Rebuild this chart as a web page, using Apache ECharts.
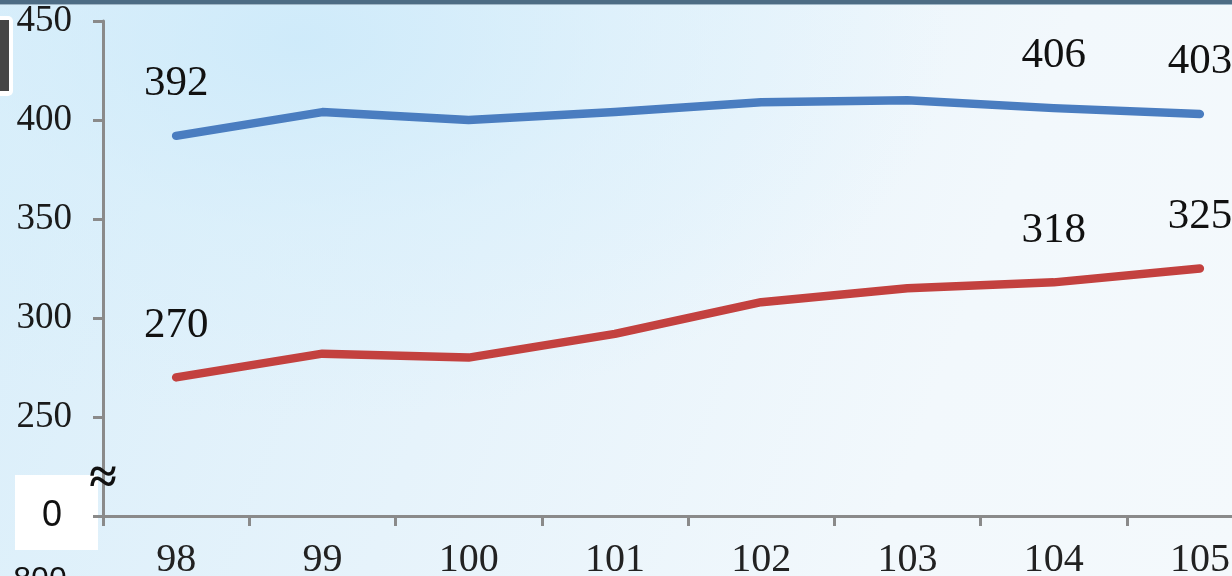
<!DOCTYPE html>
<html>
<head>
<meta charset="utf-8">
<script src="https://cdn.jsdelivr.net/npm/echarts@6/dist/echarts.min.js"></script>
<style>
html,body{margin:0;padding:0;width:1232px;height:576px;overflow:hidden;}
body{background:
  radial-gradient(ellipse 650px 380px at 300px 40px, rgba(205,234,250,0.9) 0%, rgba(214,238,251,0.5) 50%, rgba(236,246,252,0) 100%),
  linear-gradient(110deg, #d9eefa 0%, #e6f3fb 40%, #f2f8fc 75%, #f4f9fc 100%);}
#chart{width:1232px;height:576px;}
</style>
</head>
<body>
<div id="chart"></div>
<script>
const categories = ['98','99','100','101','102','103','104','105'];
const seriesA = [392, 404, 400, 404, 409, 410, 406, 403];
const seriesB = [270, 282, 280, 292, 308, 315, 318, 325];
const labelIndices = [0, 6, 7];
const yTicks = [200, 250, 300, 350, 400, 450];
const yTickLabels = ['0', '250', '300', '350', '400', '450'];

const chart = echarts.init(document.getElementById('chart'), null, {renderer: 'canvas'});

function buildData(arr) {
  return arr.map((v, i) => ({
    value: v,
    label: { show: labelIndices.indexOf(i) >= 0 }
  }));
}

const serif = '"Liberation Serif", "Times New Roman", serif';
const sans = '"Liberation Sans", Arial, sans-serif';

function lineSeries(name, arr, color) {
  return {
    name: name,
    type: 'line',
    data: buildData(arr),
    symbol: 'circle',
    symbolSize: 1,
    showSymbol: true,
    lineStyle: { color: color, width: 8.5, cap: 'round', join: 'round' },
    itemStyle: { color: color },
    label: {
      position: 'top',
      distance: 30,
      fontFamily: serif,
      fontSize: 43,
      color: '#111'
    },
    emphasis: { disabled: true },
    z: 3
  };
}

const option = {
  animation: false,
  backgroundColor: 'transparent',
  grid: { left: 103, top: 21, width: 1170, height: 495, containLabel: false, outerBoundsMode: 'none' },
  xAxis: {
    type: 'category',
    data: categories,
    boundaryGap: true,
    axisLine: { lineStyle: { color: '#8a8a8a', width: 3 } },
    axisTick: { show: true, length: 10, lineStyle: { color: '#8a8a8a', width: 3 } },
    axisLabel: { fontFamily: serif, fontSize: 40, color: '#222', margin: 24 },
    splitLine: { show: false },
    z: 5
  },
  yAxis: {
    type: 'value',
    min: 200,
    max: 450,
    interval: 50,
    axisLine: { show: true, lineStyle: { color: '#8a8a8a', width: 3 } },
    axisTick: { show: true, length: 10, lineStyle: { color: '#8a8a8a', width: 3 } },
    axisLabel: {
      fontFamily: serif,
      fontSize: 37,
      color: '#1a1a1a',
      margin: 31,
      formatter: function (v) {
        const idx = yTicks.indexOf(v);
        const t = idx >= 0 ? yTickLabels[idx] : '';
        if (v === 200) return '{z|' + t + '}{s|}';
        return t;
      },
      rich: {
        z: { fontFamily: sans, fontSize: 36, color: '#111' },
        s: { width: 10 }
      }
    },
    splitLine: { show: false },
    z: 10
  },
  graphic: [
    { type: 'rect', shape: { x: 0, y: 0, width: 1232, height: 4 }, style: { fill: '#4d6c84' }, z: 1 },
    { type: 'rect', shape: { x: 0, y: 4, width: 1232, height: 1 }, style: { fill: '#9fb6c6' }, z: 1 },
    { type: 'rect', shape: { x: -6, y: 16, width: 19, height: 80, r: 5 }, style: { fill: '#ffffff' }, z: 1 },
    { type: 'rect', shape: { x: 0, y: 20, width: 9, height: 71 }, style: { fill: '#454545' }, z: 1 },
    { type: 'rect', shape: { x: 15, y: 475, width: 83, height: 75 }, style: { fill: '#ffffff' }, z: 0 },
    { type: 'text', x: 103, y: 480, style: { text: '≈', fontFamily: serif, fontSize: 50, fontWeight: 'bold', fill: '#111', align: 'center', verticalAlign: 'middle' }, z: 20 },
    { type: 'text', x: 40, y: 564, style: { text: '800', fontFamily: sans, fontSize: 32, fill: '#111', align: 'center', verticalAlign: 'top' }, z: 1 }
  ],
  series: [
    lineSeries('A', seriesA, '#4a7dc0'),
    lineSeries('B', seriesB, '#c3413f')
  ]
};

chart.setOption(option);
</script>
</body>
</html>
